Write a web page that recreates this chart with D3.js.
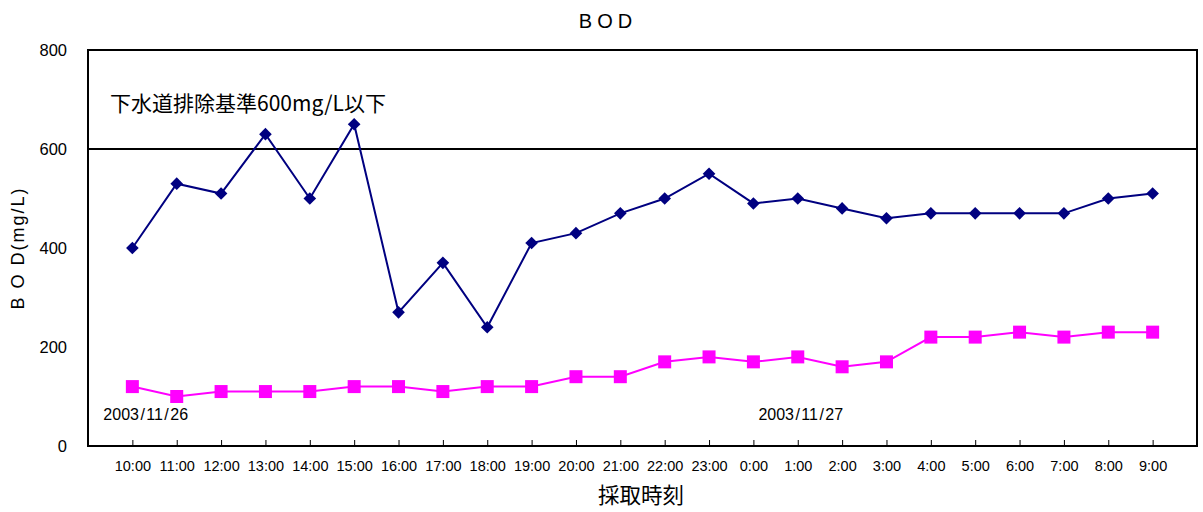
<!DOCTYPE html>
<html>
<head>
<meta charset="utf-8">
<script src="https://cdn.jsdelivr.net/npm/d3@7"></script>
<style>
  body { margin: 0; background: #fff; }
  svg { font-family: "Liberation Sans", Arial, "Noto Sans CJK JP", sans-serif; }
</style>
</head>
<body>
<svg id="chart" width="1203" height="512"></svg>
<script>
// categories (sampling time)
const times = ['10:00','11:00','12:00','13:00','14:00','15:00','16:00','17:00','18:00','19:00','20:00','21:00',
  '22:00','23:00','0:00','1:00','2:00','3:00','4:00','5:00','6:00','7:00','8:00','9:00'];
// BOD before treatment (blue) and after (magenta)
const bodBlue = [400,530,510,630,500,650,270,370,240,410,430,470,500,550,490,500,480,460,470,470,470,470,500,510];
const bodPink = [120,100,110,110,110,120,120,110,120,120,140,140,170,180,170,180,160,170,220,220,230,220,230,230];
const yTicks = [0,200,400,600,800];
const limit = 600;
const dates = [{t: '10:00', label: '2003/11/26'}, {t: '0:00', label: '2003/11/27'}];

let svg = d3.select('#chart');

let plotL = 88, plotR = 1197, plotT = 50, plotB = 446;

let x = d3.scalePoint().domain(times).range([plotL, plotR]).padding(1);
let y = d3.scaleLinear().domain([0, 800]).range([plotB, plotT]);

// frame
svg.append('rect')
  .attr('x', plotL).attr('y', plotT)
  .attr('width', plotR - plotL).attr('height', plotB - plotT)
  .attr('fill', 'none').attr('stroke', '#000').attr('stroke-width', 2);

// limit line
svg.append('line')
  .attr('x1', plotL).attr('x2', plotR)
  .attr('y1', y(limit)).attr('y2', y(limit))
  .attr('stroke', '#000').attr('stroke-width', 2);

// y axis
let yAxis = svg.append('g')
  .attr('transform', `translate(${plotL},0)`)
  .call(d3.axisLeft(y).tickValues(yTicks).tickSize(0).tickPadding(21));
yAxis.select('.domain').remove();
yAxis.selectAll('text').attr('font-size', 16.5).attr('font-family', '"Liberation Sans", Arial, sans-serif');

// x axis
let xAxis = svg.append('g')
  .attr('transform', `translate(0,${plotB})`)
  .call(d3.axisBottom(x).tickSizeInner(-6).tickSizeOuter(0).tickPadding(15));
xAxis.select('.domain').remove();
xAxis.selectAll('line').attr('stroke', '#000').attr('stroke-width', 1);
xAxis.selectAll('text').attr('font-size', 14.5).attr('font-family', '"Liberation Sans", Arial, sans-serif');

// lines
let line = d3.line().x((d, i) => x(times[i])).y(d => y(d));

svg.append('path').datum(bodPink)
  .attr('fill', 'none').attr('stroke', '#ff00ff').attr('stroke-width', 2)
  .attr('d', line);

svg.append('path').datum(bodBlue)
  .attr('fill', 'none').attr('stroke', '#000080').attr('stroke-width', 2)
  .attr('d', line);

// markers
svg.append('g').selectAll('rect').data(bodPink).join('rect')
  .attr('x', (d, i) => x(times[i]) - 6.5)
  .attr('y', d => y(d) - 6.5)
  .attr('width', 13).attr('height', 13)
  .attr('fill', '#ff00ff');

svg.append('g').selectAll('path').data(bodBlue).join('path')
  .attr('d', d3.symbol().type(d3.symbolSquare).size(80))
  .attr('transform', (d, i) => `translate(${x(times[i])},${y(d)}) rotate(45)`)
  .attr('fill', '#000080');

// date labels
svg.append('g').selectAll('text').data(dates).join('text')
  .attr('x', (d, i) => x(d.t) + (i === 0 ? -29 : 5))
  .attr('y', 420)
  .attr('font-size', 16)
  .attr('word-spacing', -3)
  .text(d => d.label.replace(/\//g, ' / '));

// limit annotation
svg.append('text')
  .attr('x', 110).attr('y', 111)
  .attr('font-size', 21)
  .attr('font-family', '"Noto Sans CJK JP", sans-serif')
  .text('下水道排除基準600mg/L以下');

// title
svg.append('text')
  .attr('x', 608).attr('y', 28)
  .attr('text-anchor', 'middle')
  .attr('font-size', 20)
  .attr('letter-spacing', 5)
  .text('BOD');

// y label
svg.append('text')
  .attr('transform', 'translate(24,248) rotate(-90)')
  .attr('text-anchor', 'middle')
  .attr('font-size', 18)
  .attr('letter-spacing', 2)
  .text('B O D(mg/L)');

// x label
svg.append('text')
  .attr('x', 641).attr('y', 503)
  .attr('text-anchor', 'middle')
  .attr('font-size', 21.5)
  .attr('font-family', '"Noto Sans CJK JP", sans-serif')
  .text('採取時刻');
</script>
</body>
</html>
